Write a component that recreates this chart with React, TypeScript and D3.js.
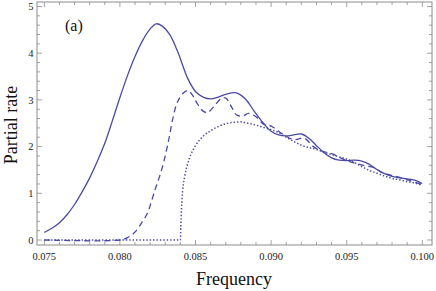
import React from "react";
import * as d3 from "d3";

// solid curve
const solidFreq = [0.075, 0.0755, 0.076, 0.0765, 0.077, 0.0775, 0.078, 0.0785, 0.079, 0.0795, 0.08, 0.0805, 0.081, 0.0815, 0.082, 0.0824, 0.0828, 0.0833, 0.0838, 0.0845, 0.085, 0.0855, 0.086, 0.0865, 0.087, 0.0877, 0.0883, 0.0889, 0.0895, 0.09, 0.0905, 0.091, 0.0915, 0.092, 0.0925, 0.093, 0.0935, 0.094, 0.0945, 0.095, 0.0955, 0.096, 0.0965, 0.097, 0.0975, 0.098, 0.0985, 0.099, 0.0995, 0.1];
const solidRate = [0.16, 0.25, 0.37, 0.54, 0.76, 1.03, 1.33, 1.68, 2.07, 2.55, 3.05, 3.52, 3.93, 4.27, 4.52, 4.63, 4.58, 4.4, 4.05, 3.45, 3.18, 3.06, 3.02, 3.06, 3.12, 3.15, 3.02, 2.75, 2.5, 2.33, 2.25, 2.23, 2.25, 2.27, 2.18, 2.02, 1.87, 1.76, 1.71, 1.7, 1.71, 1.69, 1.62, 1.51, 1.42, 1.36, 1.33, 1.31, 1.28, 1.21];

// dashed curve
const dashedFreq = [0.075, 0.08, 0.0805, 0.081, 0.0815, 0.0818, 0.0823, 0.0828, 0.0832, 0.0835, 0.0838, 0.0842, 0.0845, 0.0848, 0.0851, 0.0855, 0.0858, 0.0862, 0.0867, 0.087, 0.0874, 0.0877, 0.0881, 0.0885, 0.089, 0.0895, 0.09, 0.0907, 0.0915, 0.0922, 0.0928, 0.0934, 0.094, 0.0946, 0.095, 0.0956, 0.0962, 0.0968, 0.0973, 0.0978, 0.0985, 0.0992, 0.1];
const dashedRate = [0, 0, 0.05, 0.17, 0.4, 0.56, 1.05, 1.55, 2.1, 2.6, 2.95, 3.15, 3.2, 3.1, 2.93, 2.76, 2.73, 2.85, 3.03, 3.04, 2.84, 2.68, 2.65, 2.71, 2.64, 2.48, 2.44, 2.28, 2.15, 2.18, 2.0, 1.9, 1.85, 1.76, 1.7, 1.64, 1.59, 1.55, 1.45, 1.4, 1.34, 1.27, 1.19];

// dotted curve
const dottedFreq = [0.075, 0.084, 0.08403, 0.08408, 0.08415, 0.0843, 0.0846, 0.085, 0.0855, 0.086, 0.0865, 0.087, 0.0875, 0.088, 0.0885, 0.089, 0.0895, 0.09, 0.0905, 0.091, 0.0915, 0.092, 0.0925, 0.093, 0.0935, 0.094, 0.0945, 0.095, 0.0955, 0.096, 0.0965, 0.097, 0.0975, 0.098, 0.0985, 0.099, 0.0995, 0.1];
const dottedRate = [0, 0, 0.3, 0.7, 1.05, 1.38, 1.75, 2.02, 2.22, 2.34, 2.43, 2.49, 2.52, 2.53, 2.5, 2.46, 2.41, 2.36, 2.3, 2.2, 2.11, 2.03, 1.98, 1.94, 1.88, 1.83, 1.78, 1.73, 1.66, 1.57, 1.49, 1.43, 1.37, 1.32, 1.29, 1.25, 1.22, 1.17];

const xTicks = [0.075, 0.08, 0.085, 0.09, 0.095, 0.1];
const xTickLabels = ["0.075", "0.080", "0.085", "0.090", "0.095", "0.100"];
const yTicks = [0, 1, 2, 3, 4, 5];

const W = 436;
const H = 291;
const frame = { left: 37, right: 432, top: 2, bottom: 245 };
const lineColor = "#4a4aa6";
const axisColor = "#8c8c8c";
const font = "'Liberation Serif', 'Times New Roman', serif";

export default function App() {
  const x = d3.scaleLinear().domain([0.075, 0.1]).range([44.3, 422.3]);
  const y = d3.scaleLinear().domain([0, 5]).range([240, 6.5]);

  const mk = (curve: d3.CurveFactory) =>
    d3
      .line<[number, number]>()
      .x((d) => x(d[0]))
      .y((d) => y(d[1]))
      .curve(curve);

  const series = [
    { f: dottedFreq, v: dottedRate, dash: "1.4,2", curve: d3.curveMonotoneX, w: 1.5 },
    { f: dashedFreq, v: dashedRate, dash: "6,4", curve: d3.curveCatmullRom, w: 1.3 },
    { f: solidFreq, v: solidRate, dash: undefined, curve: d3.curveCatmullRom, w: 1.3 },
  ];

  // minor ticks
  const xMinor = d3.range(0.075, 0.1001, 0.001).filter((t) => Math.abs(Math.round(t / 0.005) * 0.005 - t) > 1e-6);
  const yMinor = d3.range(0, 5.001, 0.2).filter((t) => Math.abs(Math.round(t) - t) > 1e-6);

  return (
    <svg width={W} height={H} style={{ position: "absolute", left: 0, top: 0 }}>
      <rect x={0} y={0} width={W} height={H} fill="#fff" />
      <rect
        x={frame.left}
        y={frame.top}
        width={frame.right - frame.left}
        height={frame.bottom - frame.top}
        fill="none"
        stroke={axisColor}
        strokeWidth={1}
      />
      <g stroke={axisColor} strokeWidth={0.8}>
        {xTicks.map((t) => (
          <g key={"xm" + t}>
            <line x1={x(t)} x2={x(t)} y1={frame.bottom} y2={frame.bottom - 5} />
            <line x1={x(t)} x2={x(t)} y1={frame.top} y2={frame.top + 5} />
          </g>
        ))}
        {xMinor.map((t) => (
          <g key={"xn" + t}>
            <line x1={x(t)} x2={x(t)} y1={frame.bottom} y2={frame.bottom - 3} />
            <line x1={x(t)} x2={x(t)} y1={frame.top} y2={frame.top + 3} />
          </g>
        ))}
        {yTicks.map((t) => (
          <g key={"ym" + t}>
            <line x1={frame.left} x2={frame.left + 5} y1={y(t)} y2={y(t)} />
            <line x1={frame.right} x2={frame.right - 5} y1={y(t)} y2={y(t)} />
          </g>
        ))}
        {yMinor.map((t) => (
          <g key={"yn" + t}>
            <line x1={frame.left} x2={frame.left + 3} y1={y(t)} y2={y(t)} />
            <line x1={frame.right} x2={frame.right - 3} y1={y(t)} y2={y(t)} />
          </g>
        ))}
      </g>
      <g fontFamily={font} fontSize={10.5} fill="#222">
        {xTicks.map((t, i) => (
          <text key={"xl" + t} x={x(t)} y={259.5} textAnchor="middle">
            {xTickLabels[i]}
          </text>
        ))}
        {yTicks.map((t) => (
          <text key={"yl" + t} x={33.5} y={y(t) + 3.6} textAnchor="end">
            {t}
          </text>
        ))}
      </g>
      <g fill="none" stroke={lineColor}>
        {series.map((s, i) => (
          <path
            key={i}
            d={mk(s.curve)(s.f.map((f, j) => [f, s.v[j]] as [number, number])) || ""}
            strokeDasharray={s.dash}
            strokeWidth={s.w}
          />
        ))}
      </g>
      <text x={65} y={30.5} fontFamily={font} fontSize={16} fill="#111">
        (a)
      </text>
      <text x={234} y={285} fontFamily={font} fontSize={18} textAnchor="middle" fill="#111">
        Frequency
      </text>
      <text
        transform={`translate(17, 125) rotate(-90)`}
        fontFamily={font}
        fontSize={18}
        textAnchor="middle"
        fill="#111"
      >
        Partial rate
      </text>
    </svg>
  );
}
